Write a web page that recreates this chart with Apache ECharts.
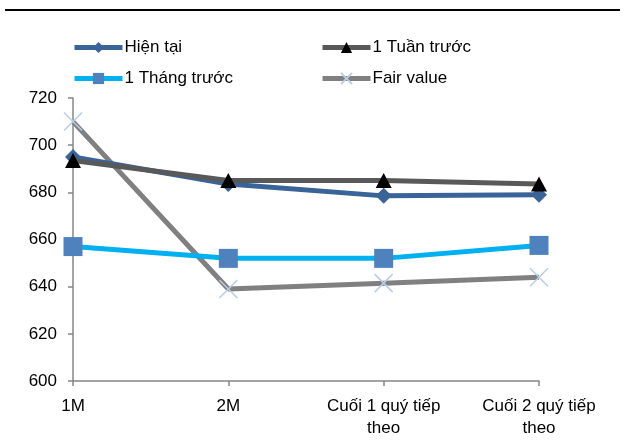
<!DOCTYPE html>
<html><head><meta charset="utf-8">
<script src="https://cdn.jsdelivr.net/npm/echarts@6/dist/echarts.min.js"></script>
<style>html,body{margin:0;padding:0;background:#fff}#c{width:624px;height:444px}</style>
</head><body><div id="c"></div>
<script>
var categories = ['1M', '2M', 'Cuối 1 quý tiếp\ntheo', 'Cuối 2 quý tiếp\ntheo'];
var hienTai = [695, 683.5, 678.5, 679];
var tuanTruoc = [693.5, 685, 685, 683.5];
var thangTruoc = [657, 652, 652, 657.5];
var fairValue = [710, 639, 641.5, 644];
var yTicks = {min: 600, max: 720, interval: 20};

var chart = echarts.init(document.getElementById('c'));
var font = 'Liberation Sans, Arial, sans-serif';
var xPath = 'path://M0,0L10,10M10,0L0,10';
var legendCommon = {orient: 'vertical', top: 39, itemWidth: 48, itemHeight: 14, itemGap: 14, padding: 0,
  lineStyle: {width: 5},
  textStyle: {fontFamily: font, fontSize: 17, color: '#000', padding: [0,0,0,-3]}};
chart.setOption({
  animation: false,
  graphic: [{type: 'line', shape: {x1: 5, y1: 10, x2: 620, y2: 10}, style: {stroke: '#000', lineWidth: 2}}],
  legend: [
    Object.assign({data: ['Hiện tại', '1 Tháng trước'], left: 72}, legendCommon),
    Object.assign({data: ['1 Tuần trước', 'Fair value'], left: 320}, legendCommon)
  ],
  grid: {left: 73, right: 85, top: 98, bottom: 63, containLabel: false},
  xAxis: {type: 'category', data: categories, boundaryGap: false,
    axisLine: {lineStyle: {color: '#868686', width: 1.5}},
    axisTick: {show: true, length: 5, lineStyle: {color: '#868686', width: 1.5}},
    axisLabel: {fontFamily: font, fontSize: 17, color: '#000', margin: 14, lineHeight: 22}},
  yAxis: {type: 'value', min: yTicks.min, max: yTicks.max, interval: yTicks.interval,
    splitLine: {show: false},
    axisLine: {show: true, lineStyle: {color: '#868686', width: 1.5}},
    axisTick: {show: true, length: 5, lineStyle: {color: '#868686', width: 1.5}},
    axisLabel: {fontFamily: font, fontSize: 17, color: '#000', margin: 16}},
  series: [
    {name: 'Hiện tại', type: 'line', data: hienTai, symbol: 'diamond', symbolSize: 16,
      lineStyle: {color: '#3A6498', width: 5}, itemStyle: {color: '#3A6498'}, z: 3},
    {name: '1 Tuần trước', type: 'line', data: tuanTruoc, symbol: 'triangle', symbolSize: [16, 15],
      lineStyle: {color: '#595959', width: 5}, itemStyle: {color: '#000'}, z: 4},
    {name: '1 Tháng trước', type: 'line', data: thangTruoc, symbol: 'rect', symbolSize: 19,
      lineStyle: {color: '#00B0F0', width: 5}, itemStyle: {color: '#4F81BD'}, z: 2},
    {name: 'Fair value', type: 'line', data: fairValue, symbol: xPath, symbolSize: 18,
      lineStyle: {color: '#808080', width: 5}, itemStyle: {color: 'none', borderColor: '#B9CDE5', borderWidth: 1.5}, z: 1}
  ]
});
</script></body></html>
